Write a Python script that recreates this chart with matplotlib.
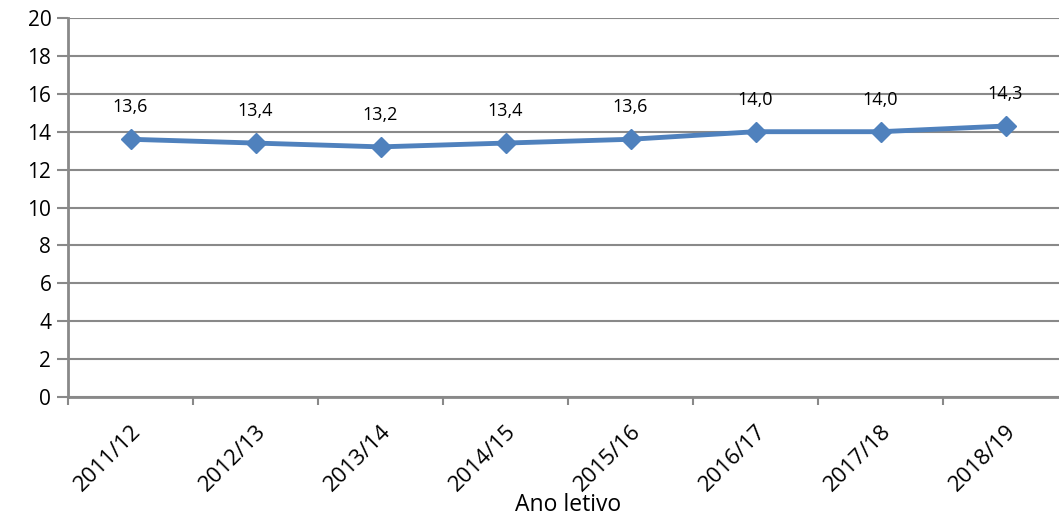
import matplotlib.pyplot as plt

anos = ["2011/12", "2012/13", "2013/14", "2014/15", "2015/16", "2016/17", "2017/18", "2018/19"]
valores = [13.6, 13.4, 13.2, 13.4, 13.6, 14.0, 14.0, 14.3]

plt.rcParams['font.family'] = ['Open Sans', 'DejaVu Sans']

fig = plt.figure(figsize=(10.59, 5.17), dpi=100)
# plot area runs slightly past the right edge, like the original
ax = fig.add_axes([68 / 1059, 1 - 397 / 517, 1000 / 1059, 379 / 517])

x = list(range(len(anos)))
ax.plot(x, valores, color='#4F81BD', lw=3.5, marker='D', markersize=10, zorder=3)

for xi, v in zip(x, valores):
    ax.annotate(f"{v:.1f}".replace('.', ','), (xi, v), xytext=(0, 23),
                textcoords='offset points', ha='center', va='center', fontsize=13)

ax.set_xlim(-0.5, len(anos) - 0.5)
ax.set_ylim(0, 20)
ax.set_yticks(range(0, 21, 2))
ax.set_xticks(x)
ax.set_xticklabels(anos, rotation=45, ha='right', rotation_mode='anchor', fontsize=16)
ax.set_xticks([i - 0.5 for i in range(len(anos) + 1)], minor=True)
ax.tick_params(axis='x', which='major', length=0, pad=17)
ax.tick_params(axis='x', which='minor', length=6, width=1.5, color='#898989')
ax.tick_params(axis='y', length=8, width=1.5, color='#898989', labelsize=15, pad=4)

ax.grid(axis='y', color='#898989', lw=1.5)
ax.set_axisbelow(True)
for s in ['top', 'right']:
    ax.spines[s].set_visible(False)
for s in ['left', 'bottom']:
    ax.spines[s].set_color('#898989')
    ax.spines[s].set_linewidth(2)

ax.set_xlabel("Ano letivo", fontsize=16.5, va='center')
ax.xaxis.set_label_coords(0.5, -(505 - 397) / 379)

plt.savefig('out.png', dpi=100)
